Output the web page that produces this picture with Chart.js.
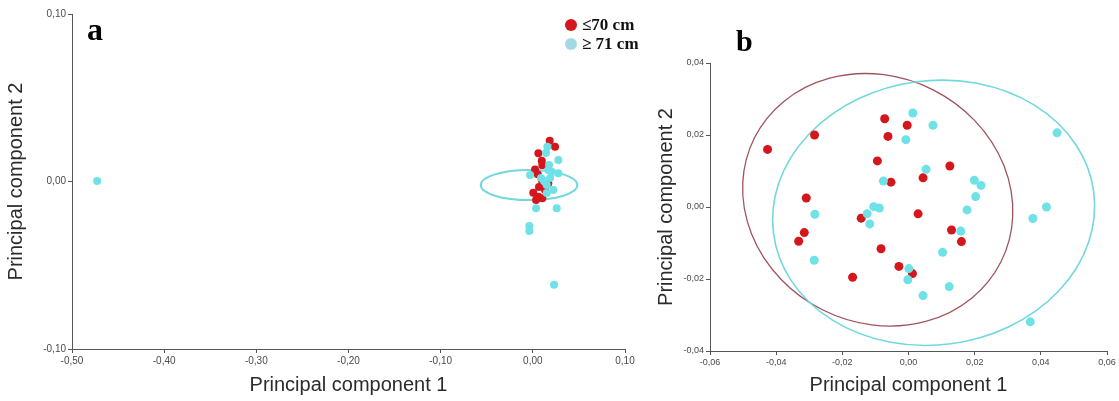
<!DOCTYPE html>
<html>
<head>
<meta charset="utf-8">
<script src="https://cdn.jsdelivr.net/npm/chart.js@4.4.1/dist/chart.umd.min.js"></script>
<style>
  html, body { margin: 0; padding: 0; background: #fff; }
  #wrap { position: relative; width: 1119px; height: 401px; overflow: hidden; }
  canvas { position: absolute; top: 0; }
  #pcaA { left: 0; }
  #pcaB { left: 650px; }
  .panel-letter { position: absolute; font: bold 32px "Liberation Serif", serif; line-height: 32px; color: #000; }
  .legend-row { position: absolute; left: 565px; font: bold 17px "Liberation Serif", serif; line-height: 17px; color: #111; white-space: nowrap; }
  .legend-dot { display: inline-block; width: 12px; height: 12px; border-radius: 50%; margin-right: 5px; vertical-align: -1px; }
</style>
</head>
<body>
<div id="wrap">
  <canvas id="pcaA" width="650" height="401"></canvas>
  <canvas id="pcaB" width="469" height="401"></canvas>
  <div class="panel-letter" style="left:87px; top:13px;">a</div>
  <div class="panel-letter" style="left:736px; top:26px; font-size:30px; line-height:30px;">b</div>
  <div class="legend-row" style="top:16px;"><span class="legend-dot" style="background:#d3171c"></span>≤70 cm</div>
  <div class="legend-row" style="top:35px;"><span class="legend-dot" style="background:#a3d9e7"></span>≥ 71 cm</div>
</div>

<script>
// Panel a: PC scores (x = PC1, y = PC2)
const redA = [
  [0.0183, 0.0244], [0.0241, 0.0208], [0.0060, 0.0168], [0.0097, 0.0124], [0.0103, 0.0097],
  [0.0024, 0.0072], [0.0053, 0.0043], [0.0097, 0.0009], [0.0168, -0.0011], [0.0005, -0.0067],
  [0.0060, -0.0091], [0.0103, -0.0100], [0.0035, -0.0110], [0.0132, -0.0051], [0.0067, -0.0033]
];
const cyanA = [
  [0.0157, 0.0208], [0.0143, 0.0170], [0.0277, 0.0128], [0.0168, 0.0069], [-0.0030, 0.0039],
  [0.0208, 0.0057], [0.0277, 0.0049], [0.0151, -0.0021], [0.0222, -0.0051], [0.0151, -0.0069],
  [0.0089, 0.0021], [0.0187, 0.0021], [0.0121, 0.0003], [0.0035, -0.0160], [0.0259, -0.0160],
  [-0.0038, -0.0266], [-0.0038, -0.0296], [0.0230, -0.0617], [-0.4727, 0.0003], [0.0176, 0.0099]
];

// Panel b: PC scores without the outlier
const redB = [
  [-0.0426, 0.0160], [-0.0284, 0.0200], [-0.0072, 0.0245], [-0.0004, 0.0227], [-0.0062, 0.0196],
  [-0.0094, 0.0128], [0.0125, 0.0114], [-0.0053, 0.0069], [0.0044, 0.0081], [-0.0309, 0.0025],
  [-0.0143, -0.0031], [0.0029, -0.0019], [-0.0315, -0.0071], [-0.0332, -0.0095], [0.0130, -0.0064],
  [0.0160, -0.0096], [-0.0083, -0.0116], [-0.0029, -0.0165], [-0.0169, -0.0195], [0.0012, -0.0185]
];
const cyanB = [
  [0.0013, 0.0261], [0.0074, 0.0227], [-0.0008, 0.0187], [0.0449, 0.0206], [0.0053, 0.0105],
  [-0.0076, 0.0072], [0.0199, 0.0074], [0.0219, 0.0060], [0.0203, 0.0029], [0.0177, -0.0008],
  [0.0417, 0.0000], [0.0376, -0.0032], [-0.0105, 0.0001], [-0.0088, -0.0003], [-0.0125, -0.0019],
  [-0.0117, -0.0047], [-0.0283, -0.0020], [-0.0285, -0.0148], [0.0158, -0.0067], [0.0103, -0.0126],
  [0.0001, -0.0171], [-0.0002, -0.0202], [0.0123, -0.0221], [0.0044, -0.0246], [0.0368, -0.0319]
];

// Group ellipses: centre, semi-axes (data units), rotation in degrees
const cyanEllipseA = { center: [-0.0041, -0.0021], radius: [0.0524, 0.0090], rotation: 0 };
const redEllipseB = { center: [-0.0093, 0.0020], radius: [0.0417, 0.0342], rotation: 26.7 };
const cyanEllipseB = { center: [0.0076, -0.0016], radius: [0.0488, 0.0367], rotation: -7.4 };

// Axis ticks
const xTicksA = [-0.5, -0.4, -0.3, -0.2, -0.1, 0.0, 0.1];
const yTicksA = [-0.1, 0.0, 0.1];
const xTicksB = [-0.06, -0.04, -0.02, 0.0, 0.02, 0.04, 0.06];
const yTicksB = [-0.04, -0.02, 0.0, 0.02, 0.04];

const pcaColors = {
  red: '#d3171c',
  cyan: '#6fe2e8',
  redRing: '#a0525c',
  cyanRing: '#72d8dd',
  axis: '#555555',
  tick: '#4a4a4a',
  title: '#2b2b2b'
};

function toPoints(list) {
  return list.map(p => ({ x: p[0], y: p[1] }));
}

function commaLabel(value) {
  const v = Math.abs(value) < 1e-9 ? 0 : value;
  return v.toFixed(2).replace('.', ',');
}

// Draws the group ellipses through the chart's own scales
const ellipsePlugin = {
  id: 'groupEllipses',
  beforeDatasetsDraw(chart, args, opts) {
    const ctx = chart.ctx;
    const xs = chart.scales.x;
    const ys = chart.scales.y;
    (opts.items || []).forEach(item => {
      const e = item.shape;
      const cx = xs.getPixelForValue(e.center[0]);
      const cy = ys.getPixelForValue(e.center[1]);
      const rx = Math.abs(xs.getPixelForValue(e.center[0] + e.radius[0]) - cx);
      const ry = Math.abs(ys.getPixelForValue(e.center[1] + e.radius[1]) - cy);
      ctx.save();
      ctx.beginPath();
      ctx.ellipse(cx, cy, rx, ry, e.rotation * Math.PI / 180, 0, Math.PI * 2);
      ctx.strokeStyle = item.color;
      ctx.lineWidth = item.width;
      ctx.stroke();
      ctx.restore();
    });
  }
};

function buildAxis(ticks, min, max, title, fontSize, fixedSize, horizontal) {
  return {
    type: 'linear',
    min: min,
    max: max,
    afterBuildTicks: scale => { scale.ticks = ticks.map(v => ({ value: v })); },
    afterFit: scale => {
      if (horizontal) scale.height = fixedSize; else scale.width = fixedSize;
    },
    grid: { display: true, drawOnChartArea: false, drawTicks: true, tickLength: 4, color: pcaColors.axis },
    border: { display: true, color: pcaColors.axis, width: 1 },
    ticks: {
      color: pcaColors.tick,
      padding: 2,
      maxRotation: 0,
      autoSkip: false,
      font: { family: 'Liberation Sans, Arial, sans-serif', size: fontSize },
      callback: value => commaLabel(value)
    },
    title: {
      display: true,
      text: title,
      color: pcaColors.title,
      padding: { top: 4, bottom: 4 },
      font: { family: 'Liberation Sans, Arial, sans-serif', size: 20 }
    }
  };
}

function scatterSet(label, list, color, radius) {
  return {
    label: label,
    data: toPoints(list),
    backgroundColor: color,
    borderWidth: 0,
    pointRadius: radius,
    pointHoverRadius: radius
  };
}

function initPanelA() {
  const ctx = document.getElementById('pcaA').getContext('2d');
  new Chart(ctx, {
    type: 'scatter',
    data: {
      datasets: [
        scatterSet('≥ 71 cm', cyanA, pcaColors.cyan, 4),
        scatterSet('≤70 cm', redA, pcaColors.red, 4)
      ]
    },
    options: {
      responsive: false,
      animation: false,
      layout: { padding: { left: 0, top: 14, right: 25, bottom: 0 } },
      plugins: {
        legend: { display: false },
        tooltip: { enabled: false },
        groupEllipses: { items: [{ shape: cyanEllipseA, color: pcaColors.cyanRing, width: 2 }] }
      },
      scales: {
        x: buildAxis(xTicksA, -0.5, 0.1, 'Principal component 1', 10, 52, true),
        y: buildAxis(yTicksA, -0.1, 0.1, 'Principal component 2', 10, 72, false)
      }
    },
    plugins: [ellipsePlugin]
  });
}

function initPanelB() {
  const ctx = document.getElementById('pcaB').getContext('2d');
  new Chart(ctx, {
    type: 'scatter',
    data: {
      datasets: [
        scatterSet('≥ 71 cm', cyanB, pcaColors.cyan, 4.5),
        scatterSet('≤70 cm', redB, pcaColors.red, 4.5)
      ]
    },
    options: {
      responsive: false,
      animation: false,
      layout: { padding: { left: 0, top: 63, right: 12, bottom: 0 } },
      plugins: {
        legend: { display: false },
        tooltip: { enabled: false },
        groupEllipses: {
          items: [
            { shape: redEllipseB, color: pcaColors.redRing, width: 1.3 },
            { shape: cyanEllipseB, color: pcaColors.cyanRing, width: 1.6 }
          ]
        }
      },
      scales: {
        x: buildAxis(xTicksB, -0.06, 0.06, 'Principal component 1', 9, 50, true),
        y: buildAxis(yTicksB, -0.04, 0.04, 'Principal component 2', 9, 60, false)
      }
    },
    plugins: [ellipsePlugin]
  });
}

document.addEventListener('DOMContentLoaded', function() {
  initPanelA();
  initPanelB();
});
</script>
</body>
</html>
